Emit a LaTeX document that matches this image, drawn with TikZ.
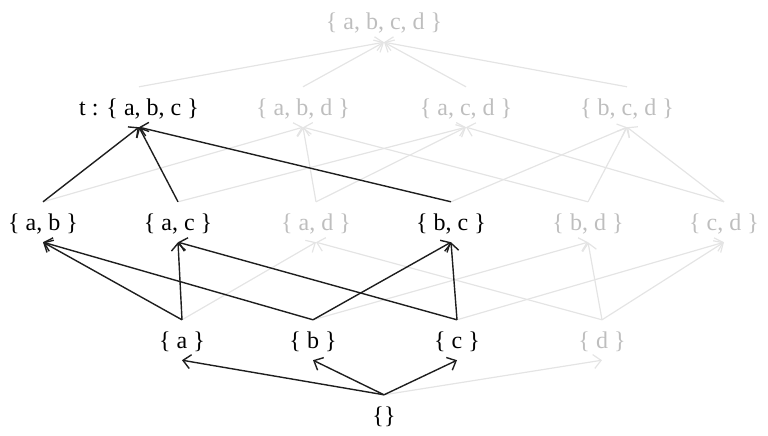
\documentclass[tikz,border=0pt]{standalone}
\usepackage{fontspec}
\setmainfont{Liberation Serif}
\usetikzlibrary{arrows.meta}
\definecolor{faintline}{RGB}{228,228,228}
\definecolor{fainttext}{RGB}{190,190,190}
\definecolor{darkline}{RGB}{30,30,30}
\begin{document}
\begin{tikzpicture}[x=1pt,y=-1pt,
  set/.style={anchor=base,inner sep=0pt,text height=28pt,text depth=12pt,font=\fontsize{24}{26}\selectfont},
  hi/.style={set,text=black},
  lo/.style={set,text=fainttext},
  tip/.style={-{Straight Barb[length=7.5pt,width=14pt]}},
  hiedge/.style={tip,draw=darkline,line width=1.4pt},
  loedge/.style={tip,draw=faintline,line width=1.2pt}]
\useasboundingbox (0,0) rectangle (768,436);
% nodes
\node[lo] (abcd) at (384,30) {\{ a, b, c, d \}};
\node[hi] (abc) at (139,115) {t : \{ a, b, c \}};
\node[lo] (abd) at (303,115) {\{ a, b, d \}};
\node[lo] (acd) at (466,115) {\{ a, c, d \}};
\node[lo] (bcd) at (627,115) {\{ b, c, d \}};
\node[hi] (ab) at (43,230) {\{ a, b \}};
\node[hi] (ac) at (178,230) {\{ a, c \}};
\node[lo] (ad) at (316,230) {\{ a, d \}};
\node[hi] (bc) at (451,230) {\{ b, c \}};
\node[lo] (bd) at (588,230) {\{ b, d \}};
\node[lo] (cd) at (724,230) {\{ c, d \}};
\node[hi] (a) at (182,348) {\{ a \}};
\node[hi] (b) at (313,348) {\{ b \}};
\node[hi] (c) at (457,348) {\{ c \}};
\node[lo] (d) at (602,348) {\{ d \}};
\node[hi] (e) at (384,423) {\{\}};
% faint edges
\foreach \s in {abc,abd,acd,bcd} \draw[loedge] (\s.north) -- (abcd.south);
\draw[loedge] (ab.north) -- (abd.south);
\draw[loedge] (ac.north) -- (acd.south);
\draw[loedge] (ad.north) -- (abd.south);
\draw[loedge] (ad.north) -- (acd.south);
\draw[loedge] (bc.north) -- (bcd.south);
\draw[loedge] (bd.north) -- (abd.south);
\draw[loedge] (bd.north) -- (bcd.south);
\draw[loedge] (cd.north) -- (acd.south);
\draw[loedge] (cd.north) -- (bcd.south);
\draw[loedge] (a.north) -- (ad.south);
\draw[loedge] (b.north) -- (bd.south);
\draw[loedge] (c.north) -- (cd.south);
\draw[loedge] (d.north) -- (ad.south);
\draw[loedge] (d.north) -- (bd.south);
\draw[loedge] (d.north) -- (cd.south);
\draw[loedge] (e.north) -- (d.south);
% dark edges
\draw[hiedge] (ab.north) -- (abc.south);
\draw[hiedge] (ac.north) -- (abc.south);
\draw[hiedge] (bc.north) -- (abc.south);
\draw[hiedge] (a.north) -- (ab.south);
\draw[hiedge] (a.north) -- (ac.south);
\draw[hiedge] (b.north) -- (ab.south);
\draw[hiedge] (b.north) -- (bc.south);
\draw[hiedge] (c.north) -- (ac.south);
\draw[hiedge] (c.north) -- (bc.south);
\draw[hiedge] (e.north) -- (a.south);
\draw[hiedge] (e.north) -- (b.south);
\draw[hiedge] (e.north) -- (c.south);
\end{tikzpicture}
\end{document}
